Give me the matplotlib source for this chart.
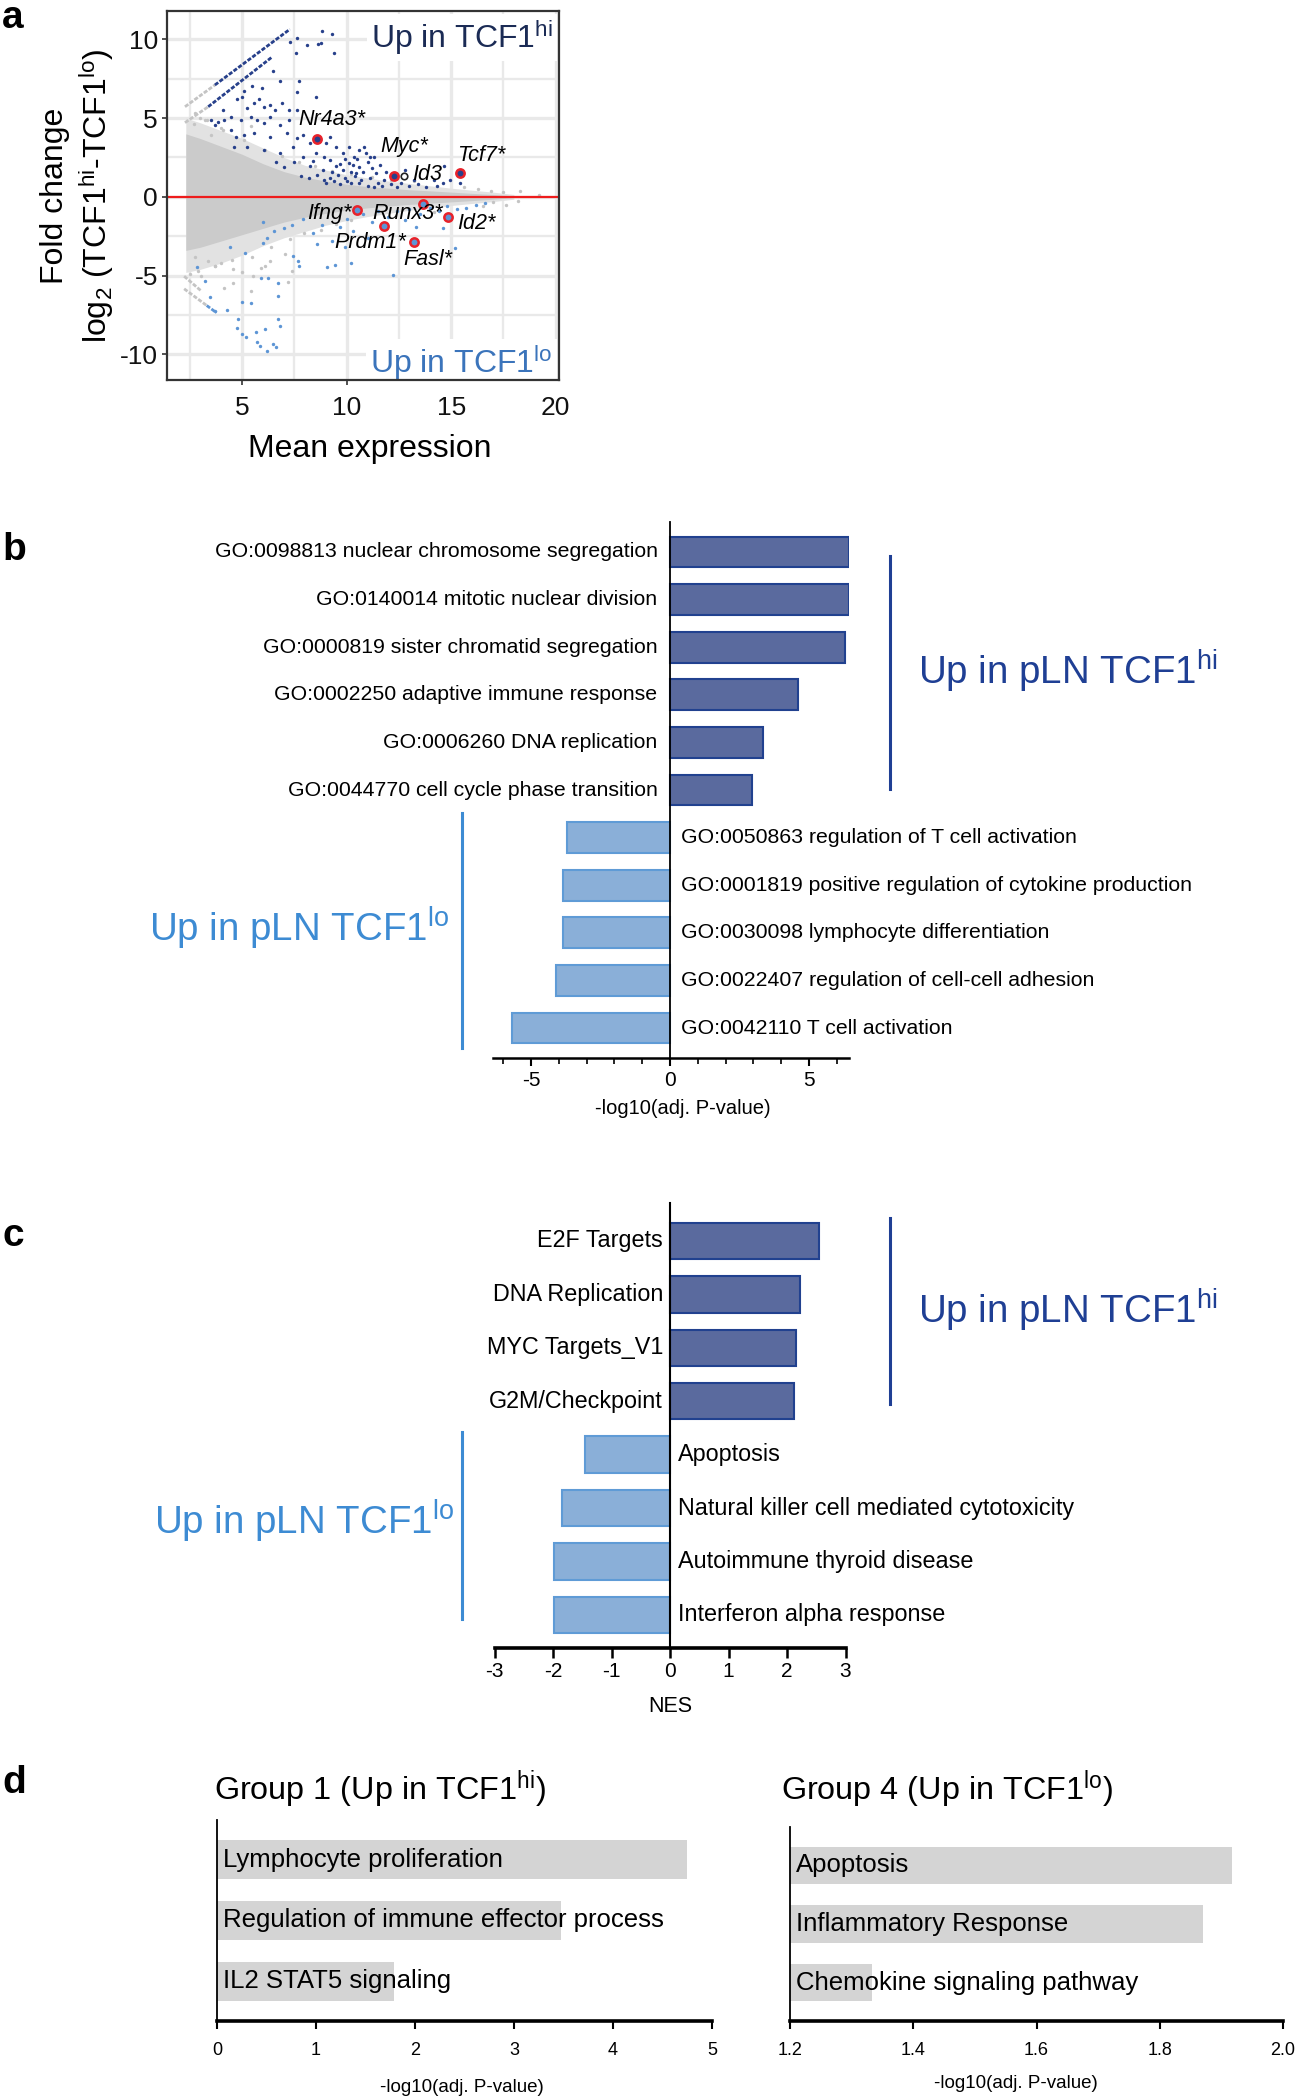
import matplotlib
matplotlib.use('Agg')
import matplotlib.pyplot as plt
from matplotlib.ticker import MultipleLocator
import numpy as np

plt.rcParams['font.family'] = 'Liberation Sans'
plt.rcParams['mathtext.fontset'] = 'custom'
plt.rcParams['mathtext.rm'] = 'Liberation Sans'
plt.rcParams['mathtext.it'] = 'Liberation Sans:italic'
plt.rcParams['axes.unicode_minus'] = False

# ---------------- data ----------------
# panel a: MA plot (gray cloud envelope)
cloud_x = [2.3, 3.0, 4.0, 5.0, 6.0, 7.0, 8.0, 9.0, 10.0, 11.0, 12.0, 13.0, 14.0, 15.0, 16.0, 17.0, 18.0]
halo_hi = [5.0, 4.7, 4.2, 3.7, 3.1, 2.5, 2.0, 1.7, 1.4, 1.2, 1.0, 0.85, 0.7, 0.55, 0.42, 0.3, 0.15]
halo_lo = [-4.8, -4.6, -4.2, -3.7, -3.1, -2.6, -2.2, -1.8, -1.5, -1.25, -1.05, -0.85, -0.7, -0.55, -0.42, -0.3, -0.15]
core_hi = [4.0, 3.7, 3.2, 2.7, 2.1, 1.6, 1.25, 1.0, 0.8, 0.65, 0.55, 0.45, 0.38, 0.3, 0.22, 0.15, 0.06]
core_lo = [-3.4, -3.2, -2.8, -2.4, -2.0, -1.6, -1.3, -1.05, -0.85, -0.7, -0.58, -0.48, -0.4, -0.32, -0.24, -0.15, -0.06]

# streaks of genes with zero counts in one group: start, end, class
streak_x0 = [2.26, 3.69, 2.26, 3.37, 2.22, 2.22, 3.30]
streak_y0 = [5.72, 7.10, 4.71, 5.72, -5.04, -5.84, -6.90]
streak_x1 = [3.69, 7.28, 3.37, 6.44, 3.05, 3.30, 3.77]
streak_y1 = [7.10, 10.64, 5.72, 8.89, -5.99, -6.90, -7.36]
streak_cls = ['ns', 'up', 'ns', 'up', 'ns', 'ns', 'down']

up_x = [7.3, 7.61, 8.08, 8.63, 8.84, 9.31, 8.79, 9.39, 7.56, 6.48, 6.82, 7.73, 7.61, 5.96, 5.49, 5.09, 4.97,
        4.75, 8.55, 5.22, 5.56, 5.8, 6.04, 6.35, 6.59, 6.9, 7.22, 7.61, 6.35, 6.04, 5.72, 5.41, 4.94, 4.46,
        4.15, 4.07, 3.84, 3.68, 3.52, 4.46, 4.7, 5.09, 5.56, 6.35, 6.82, 7.22, 7.14, 7.61, 7.92, 8.24, 8.71,
        9.02, 9.18, 9.5, 9.81, 10.1, 10.36, 10.6, 10.1, 9.5, 8.87, 8.24, 7.92, 4.62, 5.25, 6.04, 6.82, 7.45,
        8.55, 9.18, 9.81, 10.44, 10.6, 10.9, 11.0, 11.2, 11.4, 11.1, 11.5, 11.8, 11.9, 12.1, 11.3, 11.6, 10.8,
        10.6, 10.4, 10.2, 12.6, 13.0, 13.4, 12.8, 13.8, 14.3, 14.6, 14.67, 14.95, 15.43, 14.2, 9.9, 9.6, 9.2,
        8.9, 8.6, 8.2, 7.8, 10.83, 11.1, 11.0, 12.4, 9.0, 9.4, 10.0, 10.7, 11.7, 12.2, 13.2, 7.5, 7.0, 6.6,
        9.7, 11.3, 8.4, 8.9, 9.3, 9.7, 10.3, 10.5, 10.2, 9.9]
up_y = [9.8, 10.09, 9.67, 9.69, 10.53, 10.32, 9.79, 9.14, 9.16, 8.0, 7.35, 7.35, 6.67, 6.92, 7.03, 6.71, 6.35,
        6.19, 6.31, 5.66, 5.97, 6.19, 5.72, 5.83, 5.51, 5.93, 5.51, 5.51, 5.09, 4.67, 4.88, 5.09, 4.88, 5.09,
        4.88, 5.51, 4.77, 4.56, 4.88, 4.25, 3.82, 3.93, 4.03, 3.82, 4.56, 4.88, 4.03, 3.72, 3.93, 3.4, 3.61,
        3.4, 3.82, 3.19, 2.77, 3.19, 2.56, 2.98, 2.14, 1.93, 1.71, 1.93, 2.56, 3.19, 3.19, 2.98, 2.77, 3.19,
        2.77, 2.35, 1.71, 1.5, 0.87, 2.8, 2.2, 1.8, 1.5, 1.2, 0.9, 1.1, 1.6, 0.8, 2.5, 2.0, 1.6,
        1.9, 1.3, 1.6, 0.9, 0.7, 0.8, 1.7, 0.6, 0.7, 0.9, 1.93, 1.08, 0.87, 1.1, 2.4, 1.4, 1.2,
        1.1, 1.4, 1.2, 1.3, 3.19, 2.56, 0.7, 0.6, 0.9, 1.0, 1.0, 1.1, 0.7, 1.2, 1.1, 2.2, 1.9, 2.2,
        0.8, 0.6, 2.3, 2.5, 1.6, 2.1, 2.0, 2.4, 0.9, 1.2]

down_x = [2.84, 3.2, 3.48, 3.68, 4.27, 4.8, 4.74, 5.0, 5.2, 5.67, 5.7, 5.85, 6.17, 6.6, 6.45, 6.72, 6.72, 6.72,
          5.9, 6.24, 5.43, 4.98, 6.1, 6.83, 4.4, 5.15, 6.0, 7.43, 7.66, 7.74, 9.45, 10.2, 9.06, 6.2, 6.0, 6.5,
          7.0, 7.4, 7.9, 8.4, 8.8, 9.3, 9.7, 10.0, 10.3, 10.8, 11.2, 11.5, 12.0, 12.4, 12.8, 13.0, 13.5, 14.0,
          14.4, 14.8, 15.3, 15.7, 16.2, 16.6, 14.6, 15.2, 12.2, 13.3, 11.0, 9.9, 8.6]
down_y = [-4.47, -5.36, -6.37, -7.25, -7.19, -7.78, -8.35, -8.73, -8.9, -8.56, -9.2, -9.45, -9.8, -9.55, -9.35,
          -7.78, -6.3, -5.5, -5.17, -5.17, -6.72, -6.68, -8.37, -8.2, -3.2, -3.56, -2.93, -3.78, -4.1, -4.4,
          -4.3, -4.2, -4.47, -2.6, -1.6, -2.2, -2.0, -1.8, -1.4, -2.3, -1.8, -2.8, -1.9, -1.4, -2.2, -1.1,
          -1.6, -0.9, -1.3, -0.9, -1.5, -0.8, -1.1, -0.7, -0.9, -0.6, -0.8, -0.7, -0.5, -0.4, -2.0, -3.25,
          -4.98, -1.9, -2.6, -3.2, -3.0]

ns_x = [3.36, 3.68, 4.0, 4.55, 5.4, 5.5, 4.55, 4.14, 5.9, 6.35, 7.2, 7.4, 16.9, 17.5, 18.3, 18.2, 17.0, 17.6,
        16.3, 19.2, 3.0, 3.3, 2.7, 4.0, 3.5, 2.5, 2.9,
        2.74, 3.7, 4.5, 5.45, 6.4, 7.05, 4.97, 3.05, 7.3, 7.95, 8.75, 9.5, 10.2, 6.1,
        3.2, 4.1, 5.1, 6.1, 6.9, 7.7, 8.5, 9.3, 10.2, 11.2, 12.1, 5.4, 2.74, 15.6, 16.5, 14.2, 13.2]
ns_y = [-4.1, -4.4, -4.2, -4.6, -6.0, -5.0, -5.5, -5.8, -4.5, -4.1, -5.4, -4.7, 0.35, 0.3, 0.35, -0.25, -0.3,
        -0.5, 0.5, 0.1, 5.0, 4.9, 4.6, 4.4, 3.9, -4.9, -4.7,
        -3.8, -4.4, -4.0, -3.8, -3.2, -3.6, -4.8, -5.0, -2.7, -2.3, -2.1, -1.7, -1.5, -4.4,
        4.9, 4.25, 3.6, 3.0, 2.6, 2.2, 1.95, 1.65, 1.45, 1.25, 1.1, 4.5, 5.3, 0.6, -0.55, -0.95, 1.0]

genes = ['Nr4a3*', 'Myc*', 'Id3', 'Tcf7*', 'Ifng*', 'Runx3*', 'Id2*', 'Prdm1*', 'Fasl*']
gene_x = [8.56, 12.26, 12.74, 15.42, 10.47, 13.67, 14.86, 11.79, 13.23]
gene_y = [3.65, 1.35, 1.35, 1.5, -0.82, -0.46, -1.25, -1.88, -2.87]
gene_cls = ['up', 'up', 'ns', 'up', 'down', 'down', 'down', 'down', 'down']

# panel b: GO enrichment
go_up_terms = ['GO:0098813 nuclear chromosome segregation', 'GO:0140014 mitotic nuclear division',
               'GO:0000819 sister chromatid segregation', 'GO:0002250 adaptive immune response',
               'GO:0006260 DNA replication', 'GO:0044770 cell cycle phase transition']
go_up_vals = [6.45, 6.45, 6.28, 4.59, 3.33, 2.96]
go_dn_terms = ['GO:0050863 regulation of T cell activation', 'GO:0001819 positive regulation of cytokine production',
               'GO:0030098 lymphocyte differentiation', 'GO:0022407 regulation of cell-cell adhesion',
               'GO:0042110 T cell activation']
go_dn_vals = [-3.72, -3.86, -3.86, -4.12, -5.68]

# panel c: GSEA
gsea_up_terms = ['E2F Targets', 'DNA Replication', 'MYC Targets_V1', 'G2M/Checkpoint']
gsea_up_vals = [2.55, 2.23, 2.15, 2.12]
gsea_dn_terms = ['Apoptosis', 'Natural killer cell mediated cytotoxicity', 'Autoimmune thyroid disease',
                 'Interferon alpha response']
gsea_dn_vals = [-1.46, -1.84, -1.98, -1.98]

# panel d
g1_terms = ['Lymphocyte proliferation', 'Regulation of immune effector process', 'IL2 STAT5 signaling']
g1_vals = [4.75, 3.47, 1.79]
g4_terms = ['Apoptosis', 'Inflammatory Response', 'Chemokine signaling pathway']
g4_vals = [1.917, 1.87, 1.333]
g4_ticks = [1.2, 1.4, 1.6, 1.8, 2.0]

# ---------------- styles ----------------
W, H = 1297, 2100
DARK_FILL, DARK_EDGE = '#5a6a9e', '#21418f'
LIGHT_FILL, LIGHT_EDGE = '#8aafd8', '#5f9bd6'
UP_TXT, LO_TXT = '#1f3f94', '#3d8bd3'
PT_COL = {'up': '#27408b', 'down': '#5d95d5', 'ns': '#c4c4c4'}


def box(l, t, r, b):
    return [l / W, 1 - b / H, (r - l) / W, (b - t) / H]


def ftext(x, y, s, **kw):
    fig.text(x / W, 1 - y / H, s, **kw)


fig = plt.figure(figsize=(W / 100, H / 100), dpi=100)

# ---------------- panel a ----------------
ax = fig.add_axes(box(167, 11, 559, 380))
ax.set_xlim(1.4, 20.16)
ax.set_ylim(-11.63, 11.8)
ax.set_axisbelow(True)
ax.xaxis.set_major_locator(MultipleLocator(5))
ax.yaxis.set_major_locator(MultipleLocator(5))
ax.xaxis.set_minor_locator(MultipleLocator(2.5))
ax.yaxis.set_minor_locator(MultipleLocator(2.5))
ax.grid(which='major', color='#e9e9e9', lw=2.4)
ax.grid(which='minor', color='#e9e9e9', lw=1.7)
ax.tick_params(which='minor', length=0)
ax.tick_params(which='major', length=3.5, width=1.2, color='#333333', labelsize=19, labelcolor='#111111')
ax.tick_params(axis='x', pad=8)
ax.tick_params(axis='y', pad=3)
for sp in ax.spines.values():
    sp.set_color('#333333')
    sp.set_linewidth(1.6)
    sp.set_zorder(10)

ax.fill_between(cloud_x, halo_lo, halo_hi, color='#e2e2e2', lw=0, zorder=1)
ax.fill_between(cloud_x, core_lo, core_hi, color='#cbcbcb', lw=0, zorder=1)
for x0, y0, x1, y1, c in zip(streak_x0, streak_y0, streak_x1, streak_y1, streak_cls):
    ax.plot([x0, x1], [y0, y1], color=PT_COL[c], lw=2, ls=(0, (1.5, 0.6)), zorder=2)
ax.scatter(ns_x, ns_y, s=6, color=PT_COL['ns'], lw=0, zorder=2)
ax.scatter(down_x, down_y, s=6, color=PT_COL['down'], lw=0, zorder=2)
ax.scatter(up_x, up_y, s=6, color=PT_COL['up'], lw=0, zorder=2)
ax.axhline(0, color='#ee1c1c', lw=1.6, zorder=3)
for g, x, y, c in zip(genes, gene_x, gene_y, gene_cls):
    if c == 'ns':
        ax.scatter([x], [y], s=22, facecolor='white', edgecolor='#222222', lw=1.2, zorder=4)
    else:
        ax.scatter([x], [y], s=36, facecolor=PT_COL[c], edgecolor='#e8222a', lw=1.8, zorder=4)

label_pos = {'Nr4a3*': (7.67, 4.9, 'left'), 'Myc*': (11.6, 3.2, 'left'), 'Id3': (13.15, 1.39, 'left'),
             'Tcf7*': (15.3, 2.6, 'left'), 'Ifng*': (10.25, -1.08, 'right'), 'Runx3*': (11.25, -1.03, 'left'),
             'Id2*': (15.3, -1.67, 'left'), 'Prdm1*': (12.85, -2.92, 'right'), 'Fasl*': (12.7, -4.0, 'left')}
for g in genes:
    lx, ly, ha = label_pos[g]
    ax.text(lx, ly, g, style='italic', fontsize=15.5, ha=ha, va='center', zorder=5)

ax.text(19.86, 10.13, r'Up in TCF1$^{\mathrm{hi}}$', color='#1b2b55', fontsize=23, ha='right', va='center',
        zorder=6, bbox=dict(boxstyle='square,pad=0.12', fc='white', ec='none'))
ax.text(19.86, -10.5, r'Up in TCF1$^{\mathrm{lo}}$', color='#3b74bb', fontsize=23, ha='right', va='center',
        zorder=6, bbox=dict(boxstyle='square,pad=0.12', fc='white', ec='none'))

ftext(370, 449, 'Mean expression', fontsize=23, ha='center', va='center')
ftext(78, 196, 'Fold change\nlog$_2$ (TCF1$^{\\mathrm{hi}}$-TCF1$^{\\mathrm{lo}}$)', fontsize=23, rotation=90,
      ha='center', va='center', multialignment='center', linespacing=1.25)

# ---------------- panel b ----------------
ax = fig.add_axes(box(493, 522, 848.7, 1058))
y_up = np.arange(len(go_up_terms))
y_dn = np.arange(len(go_dn_terms)) + len(go_up_terms)
ax.barh(y_up, go_up_vals, height=0.65, color=DARK_FILL, edgecolor=DARK_EDGE, lw=1.5, zorder=2)
ax.barh(y_dn, go_dn_vals, height=0.65, color=LIGHT_FILL, edgecolor=LIGHT_EDGE, lw=1.5, zorder=2)
ax.set_xlim(-6.37, 6.43)
ax.set_ylim(10.63, -0.63)
ax.spines['top'].set_visible(False)
ax.spines['right'].set_visible(False)
ax.spines['left'].set_position(('data', 0))
ax.spines['left'].set_linewidth(1.3)
ax.spines['bottom'].set_linewidth(1.8)
ax.set_yticks([])
ax.set_xticks([-5, 0, 5])
ax.xaxis.set_minor_locator(MultipleLocator(1))
ax.tick_params(axis='x', which='major', length=6, width=1.5, labelsize=15, pad=3)
ax.tick_params(axis='x', which='minor', length=4, width=1.2)
for t, y in zip(go_up_terms, y_up):
    ax.annotate(t, (0, y), xytext=(-9, 0), textcoords='offset points', ha='right', va='center', fontsize=15.3)
for t, y in zip(go_dn_terms, y_dn):
    ax.annotate(t, (0, y), xytext=(8, 0), textcoords='offset points', ha='left', va='center', fontsize=15.3)
ax.plot([7.91, 7.91], [0.08, 4.98], color=UP_TXT, lw=2.2, clip_on=False)
ax.plot([-7.48, -7.48], [5.49, 10.42], color=LO_TXT, lw=2.2, clip_on=False)
ax.text(8.92, 2.5, r'Up in pLN TCF1$^{\mathrm{hi}}$', color=UP_TXT, fontsize=27.7, ha='left', va='center')
ax.text(-7.95, 7.9, r'Up in pLN TCF1$^{\mathrm{lo}}$', color=LO_TXT, fontsize=27.7, ha='right', va='center')
ftext(683, 1109, '-log10(adj. P-value)', fontsize=14.5, ha='center', va='center')

# ---------------- panel c ----------------
ax = fig.add_axes(box(494.5, 1203, 845.5, 1648))
y_up = np.arange(len(gsea_up_terms))
y_dn = np.arange(len(gsea_dn_terms)) + len(gsea_up_terms)
ax.barh(y_up, gsea_up_vals, height=0.68, color=DARK_FILL, edgecolor=DARK_EDGE, lw=1.5, zorder=2)
ax.barh(y_dn, gsea_dn_vals, height=0.68, color=LIGHT_FILL, edgecolor=LIGHT_EDGE, lw=1.5, zorder=2)
ax.set_xlim(-3, 3)
ax.set_ylim(7.62, -0.71)
ax.spines['top'].set_visible(False)
ax.spines['right'].set_visible(False)
ax.spines['left'].set_position(('data', 0))
ax.spines['left'].set_linewidth(1.5)
ax.spines['bottom'].set_linewidth(2.6)
ax.set_yticks([])
ax.set_xticks(range(-3, 4))
ax.tick_params(axis='x', length=7, width=1.8, labelsize=15, pad=3)
for t, y in zip(gsea_up_terms, y_up):
    ax.annotate(t, (0, y), xytext=(-5, 0), textcoords='offset points', ha='right', va='center', fontsize=16.8)
for t, y in zip(gsea_dn_terms, y_dn):
    ax.annotate(t, (0, y), xytext=(6, 0), textcoords='offset points', ha='left', va='center', fontsize=16.8)
ax.plot([3.76, 3.76], [-0.43, 3.05], color=UP_TXT, lw=2.2, clip_on=False)
ax.plot([-3.56, -3.56], [3.57, 7.07], color=LO_TXT, lw=2.2, clip_on=False)
ax.text(4.24, 1.3, r'Up in pLN TCF1$^{\mathrm{hi}}$', color=UP_TXT, fontsize=27.7, ha='left', va='center')
ax.text(-3.68, 5.25, r'Up in pLN TCF1$^{\mathrm{lo}}$', color=LO_TXT, fontsize=27.7, ha='right', va='center')
ftext(670, 1707, 'NES', fontsize=15.5, ha='center', va='center')

# ---------------- panel d ----------------
for pos, terms, vals, lim, title, tx, xl in [
        ((217, 1820, 712, 2021), g1_terms, g1_vals, (0, 5), r'Group 1 (Up in TCF1$^{\mathrm{hi}}$)', 214, (462, 2087)),
        ((790, 1827, 1283, 2021), g4_terms, g4_vals, (1.2, 2.0), r'Group 4 (Up in TCF1$^{\mathrm{lo}}$)', 781, (1016, 2083))]:
    ax = fig.add_axes(box(*pos))
    yy = np.arange(len(terms))
    ax.barh(yy, vals, height=0.63, color='#d4d4d4', lw=0, zorder=1)
    ax.set_xlim(*lim)
    ax.set_ylim(2.65, -0.65)
    ax.spines['top'].set_visible(False)
    ax.spines['right'].set_visible(False)
    ax.spines['left'].set_linewidth(1.3)
    ax.spines['bottom'].set_linewidth(2.6)
    ax.set_yticks([])
    if lim[0] == 0:
        ax.set_xticks(range(0, 6))
    else:
        ax.set_xticks(g4_ticks)
        ax.set_xticklabels([f'{t:.1f}' for t in g4_ticks])
    ax.tick_params(axis='x', length=6, width=1.5, labelsize=13, pad=9)
    for t, y in zip(terms, yy):
        ax.annotate(t, (lim[0], y), xytext=(4, 0), textcoords='offset points', ha='left', va='center',
                    fontsize=18.5, zorder=3)
    ftext(tx, 1790, title, fontsize=23.3, ha='left', va='center')
    ftext(xl[0], xl[1], '-log10(adj. P-value)', fontsize=13.5, ha='center', va='center')

# panel letters
for letter, yb in [('a', 28), ('b', 560), ('c', 1246), ('d', 1793)]:
    ftext(2, yb, letter, fontsize=28, fontweight='bold', ha='left', va='baseline')

fig.savefig('out.png', dpi=100)
